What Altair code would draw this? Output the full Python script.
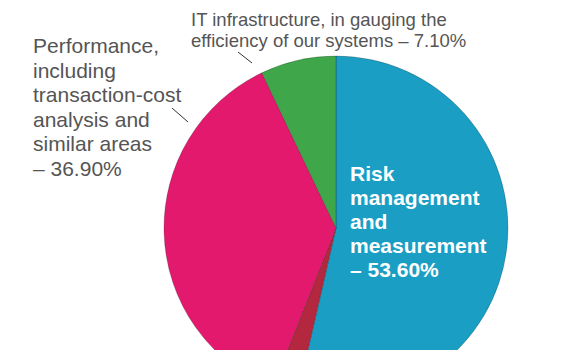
import altair as alt
import pandas as pd

# Data
categories = ["Risk management and measurement", "Other", "Performance", "IT infrastructure"]
shares = [53.6, 2.4, 36.9, 7.1]
slice_order = [0, 1, 2, 3]
colors = ["#1a9ec3", "#b3283f", "#e3196e", "#3fa74a"]

top_label = ["IT infrastructure, in gauging the", "efficiency of our systems – 7.10%"]
left_label = ["Performance,", "including", "transaction-cost", "analysis and", "similar areas", "– 36.90%"]
inner_label = ["Risk", "management", "and", "measurement", "– 53.60%"]

df = pd.DataFrame({"category": categories, "share": shares, "rank": slice_order})
one = pd.DataFrame({"k": [0]})

CX, CY, R = 328, 220, 172

pie = alt.Chart(df).mark_arc(
    outerRadius=R, stroke="#000000", strokeOpacity=0.25, strokeWidth=0.8
).encode(
    theta=alt.Theta("share:Q", stack=True),
    color=alt.Color("category:N", scale=alt.Scale(domain=categories, range=colors), legend=None),
    order=alt.Order("rank:Q"),
    x=alt.value(CX),
    y=alt.value(CY),
)

gray = "#555555"
font = "Liberation Sans"

def label(lines, x, y, size, color, weight="normal", lh=24):
    return alt.Chart(one).mark_text(
        align="left", baseline="alphabetic", font=font, fontSize=size,
        fontWeight=weight, color=color, lineHeight=lh, lineBreak="\n"
    ).encode(
        x=alt.value(x), y=alt.value(y), text=alt.value("\n".join(lines))
    )

t_top = label(top_label, 183, 18, 18.5, gray, lh=21)
t_left = label(left_label, 25, 45, 21, gray, lh=24.5)
t_in = label(inner_label, 342, 173, 21, "#ffffff", weight="bold", lh=24)

lead1 = alt.Chart(one).mark_rule(color="#333333", strokeWidth=1).encode(
    x=alt.value(164), x2=alt.value(180), y=alt.value(100), y2=alt.value(114)
)
lead2 = alt.Chart(one).mark_rule(color="#333333", strokeWidth=1).encode(
    x=alt.value(230), x2=alt.value(244), y=alt.value(44), y2=alt.value(55)
)

chart = alt.layer(pie, lead1, lead2, t_top, t_left, t_in).properties(
    width=564, height=342, padding=0, autosize=alt.AutoSizeParams(type="none"),
    background="#ffffff"
).configure_view(stroke=None)

chart.save("out.html", embed_options={"renderer": "svg", "actions": False})
